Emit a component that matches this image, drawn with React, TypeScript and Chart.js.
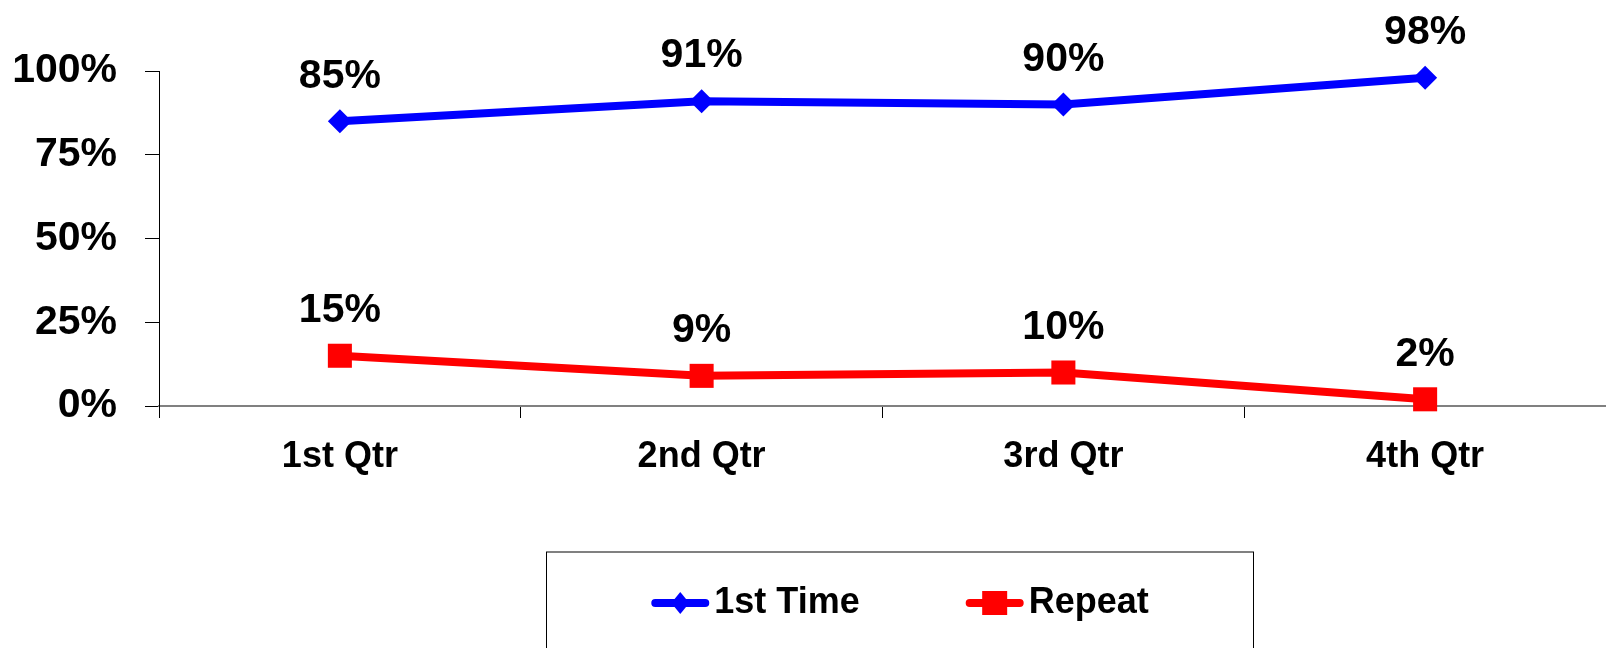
import React, { useEffect, useRef } from "react";
import { Chart, registerables } from "chart.js";

Chart.register(...registerables);

const categories = ["1st Qtr", "2nd Qtr", "3rd Qtr", "4th Qtr"];
const firstTime = [85, 91, 90, 98];
const repeat = [15, 9, 10, 2];
const yTicks = [0, 25, 50, 75, 100];

const FONT = "'Liberation Sans', Arial, sans-serif";
const FS_NUM = 41;
const FS_TXT = 36;

const dataLabels = {
  id: "dataLabels",
  afterDatasetsDraw(chart: any) {
    const ctx = chart.ctx;
    ctx.save();
    ctx.font = `bold ${FS_NUM}px ${FONT}`;
    ctx.fillStyle = "#000";
    ctx.textAlign = "center";
    ctx.textBaseline = "middle";
    chart.data.datasets.forEach((ds: any, i: number) => {
      const meta = chart.getDatasetMeta(i);
      meta.data.forEach((pt: any, j: number) => {
        ctx.fillText(ds.data[j] + "%", pt.x, pt.y - 45);
      });
    });
    ctx.restore();
  },
};

const boxLegend = {
  id: "boxLegend",
  afterDraw(chart: any) {
    const ctx = chart.ctx;
    const left = 546.5, right = 1253.5, top = 552;
    ctx.save();
    ctx.strokeStyle = "#808080";
    ctx.lineWidth = 2;
    ctx.beginPath();
    ctx.moveTo(left - 0.5, top);
    ctx.lineTo(right + 0.5, top);
    ctx.stroke();
    ctx.strokeStyle = "#000";
    ctx.lineWidth = 1;
    ctx.beginPath();
    ctx.moveTo(left, top);
    ctx.lineTo(left, chart.height + 5);
    ctx.moveTo(right, top);
    ctx.lineTo(right, chart.height + 5);
    ctx.stroke();

    ctx.font = `bold ${FS_TXT}px ${FONT}`;
    const lineW = 58, gapT = 5, gapItem = 106;
    const items = chart.data.datasets.map((ds: any) => ({
      ds,
      w: lineW + gapT + ctx.measureText(ds.label).width,
    }));
    const total = items.reduce((s: number, it: any) => s + it.w, 0) + gapItem * (items.length - 1);
    let x = (left + right) / 2 - total / 2;
    const cy = 603;
    items.forEach((it: any) => {
      const ds = it.ds;
      ctx.strokeStyle = ds.borderColor;
      ctx.lineWidth = 8;
      ctx.lineCap = "round";
      ctx.beginPath();
      ctx.moveTo(x + 4, cy);
      ctx.lineTo(x + lineW - 4, cy);
      ctx.stroke();
      ctx.fillStyle = ds.pointBackgroundColor;
      const mx = x + lineW / 2;
      ctx.beginPath();
      if (ds.pointStyle === "rectRot") {
        ctx.moveTo(mx, cy - 11);
        ctx.lineTo(mx + 9, cy);
        ctx.lineTo(mx, cy + 11);
        ctx.lineTo(mx - 9, cy);
        ctx.closePath();
      } else {
        ctx.rect(mx - 12.5, cy - 12, 25, 24);
      }
      ctx.fill();
      ctx.fillStyle = "#000";
      ctx.textAlign = "left";
      ctx.textBaseline = "middle";
      ctx.fillText(ds.label, x + lineW + gapT, cy);
      x += it.w + gapItem;
    });
    ctx.restore();
  },
};

export default function App() {
  const ref = useRef<HTMLCanvasElement>(null);
  useEffect(() => {
    document.body.style.margin = "0";
    if (!ref.current) return;
    const chart = new Chart(ref.current, {
      type: "line",
      data: {
        labels: categories,
        datasets: [
          {
            label: "1st Time",
            data: firstTime,
            borderColor: "#0000FF",
            backgroundColor: "#0000FF",
            pointBackgroundColor: "#0000FF",
            pointBorderColor: "#0000FF",
            pointStyle: "rectRot",
            pointRadius: 12,
            pointBorderWidth: 0,
            borderWidth: 8,
            tension: 0,
            clip: false,
          },
          {
            label: "Repeat",
            data: repeat,
            borderColor: "#FF0000",
            backgroundColor: "#FF0000",
            pointBackgroundColor: "#FF0000",
            pointBorderColor: "#FF0000",
            pointStyle: "rect",
            pointRadius: 17,
            pointBorderWidth: 0,
            borderWidth: 8,
            tension: 0,
            clip: false,
          },
        ],
      },
      options: {
        animation: false,
        responsive: false,
        devicePixelRatio: 1,
        layout: { autoPadding: false, padding: { top: 71, left: 0, right: 0, bottom: 0 } },
        plugins: {
          legend: { display: false },
          tooltip: { enabled: false },
        },
        scales: {
          x: {
            offset: true,
            grid: {
              offset: true,
              drawOnChartArea: false,
              tickLength: 12,
              color: "#000",
              lineWidth: 1,
            },
            border: { color: "#808080", width: 2 },
            ticks: {
              color: "#000",
              font: { family: FONT, size: FS_TXT, weight: "bold" },
              padding: 17,
              maxRotation: 0,
            },
            afterFit(scale: any) {
              scale.height = 242;
            },
          },
          y: {
            min: 0,
            max: 100,
            afterBuildTicks(scale: any) {
              scale.ticks = yTicks.map((v) => ({ value: v }));
            },
            grid: {
              drawOnChartArea: false,
              tickLength: 14,
              color: "#000",
              lineWidth: 1,
            },
            border: { color: "#000", width: 1 },
            ticks: {
              color: "#000",
              font: { family: FONT, size: FS_NUM, weight: "bold" },
              padding: 28,
              callback: (v: any) => v + "%",
            },
            afterFit(scale: any) {
              scale.width = 159;
            },
          },
        },
      },
      plugins: [dataLabels, boxLegend],
    });
    return () => chart.destroy();
  }, []);
  return (
    <div style={{ position: "absolute", left: 0, top: 0, width: 1606, height: 648, background: "#fff" }}>
      <canvas ref={ref} width={1606} height={648} />
    </div>
  );
}
